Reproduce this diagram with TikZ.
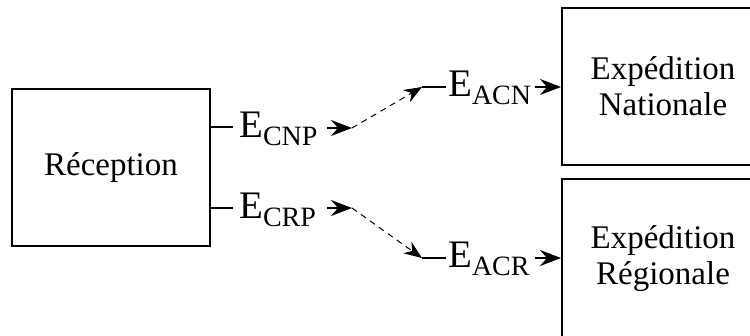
\documentclass[tikz,border=0pt]{standalone}
\usepackage{fontspec}
\setmainfont{Liberation Serif}
\usetikzlibrary{arrows.meta}
\newcommand{\elab}[1]{{\fontsize{39}{39}\selectfont E}\raisebox{-7.5pt}{\fontsize{28}{28}\selectfont #1}}
\begin{document}
\begin{tikzpicture}[x=1pt,y=-1pt,
  boxnode/.style={draw,line width=2pt,inner sep=0pt,align=center,font=\fontsize{33}{36}\selectfont},
  solidline/.style={line width=2pt},
  tiparrow/.style={line width=2pt,-{Stealth[length=21pt,width=16pt,inset=7pt]}},
  dasharrow/.style={line width=1pt,dash pattern=on 6pt off 5pt,-{Stealth[length=18pt,width=14pt,inset=6pt,line width=1pt]}},
  lab/.style={anchor=base west,inner sep=0pt}]
\useasboundingbox (0,0) rectangle (750,336);
\clip (0,0) rectangle (750,336);
% boxes
\node[boxnode,minimum width=198pt,minimum height=157pt] (rec) at (111,167.5) {Réception};
\node[boxnode,minimum width=202pt,minimum height=157pt] (nat) at (663,86.5) {Expédition\\Nationale};
\node[boxnode,minimum width=202pt,minimum height=160pt] (reg) at (663,259) {Expédition\\Régionale};
% labels
\node[lab] (lcnp) at (239,138) {\elab{CNP}};
\node[lab] (lcrp) at (239,219) {\elab{CRP}};
\node[lab] (lacn) at (448,97) {\elab{ACN}};
\node[lab] (lacr) at (448,268) {\elab{ACR}};
% coordinates
\coordinate (t1) at (233,127);
\coordinate (t2) at (233,208);
\coordinate (a1s) at (327,128);
\coordinate (a1e) at (352,128);
\coordinate (a2s) at (327,208);
\coordinate (a2e) at (352,208);
\coordinate (q1) at (422,87);
\coordinate (q1e) at (446,87);
\coordinate (q2) at (422,258);
\coordinate (q2e) at (446,258);
\coordinate (b1s) at (535,87);
\coordinate (b2s) at (535,258);
% ticks
\draw[solidline] (rec.east |- t1) -- (t1);
\draw[solidline] (rec.east |- t2) -- (t2);
\draw[tiparrow] (a1s) -- (a1e);
\draw[tiparrow] (a2s) -- (a2e);
\draw[dasharrow] (a1e) -- (q1);
\draw[dasharrow] (a2e) -- (q2);
\draw[solidline] (q1) -- (q1e);
\draw[solidline] (q2) -- (q2e);
\draw[tiparrow] (b1s) -- (nat.west |- b1s);
\draw[tiparrow] (b2s) -- (reg.west |- b2s);
\end{tikzpicture}
\end{document}
